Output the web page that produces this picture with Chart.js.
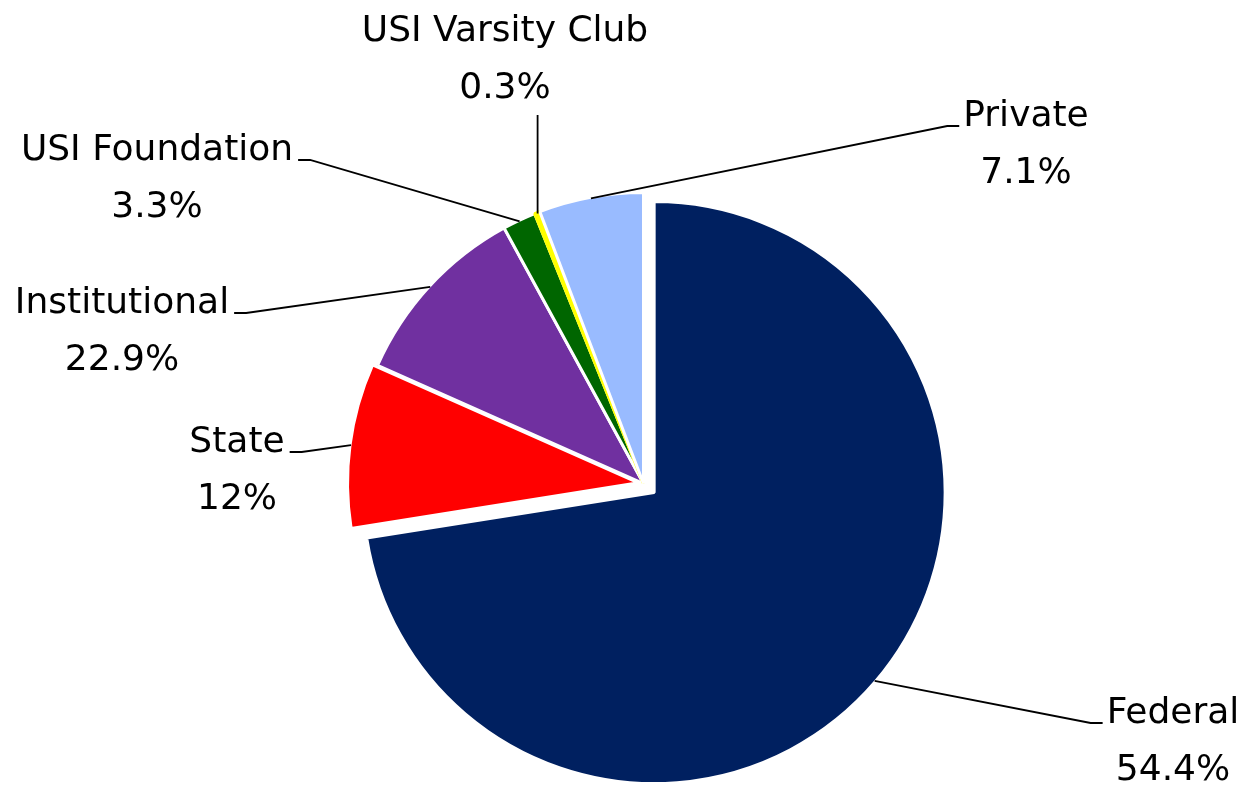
<!DOCTYPE html>
<html>
<head>
<meta charset="utf-8">
<script src="https://cdn.jsdelivr.net/npm/chart.js@4.4.1/dist/chart.umd.min.js"></script>
<style>
  html, body { margin: 0; padding: 0; background: #ffffff; }
  #wrap { width: 1245px; height: 786px; position: relative; }
</style>
</head>
<body>
<div id="wrap"><canvas id="c" width="1245" height="786"></canvas></div>
<script>
// ---- data ----
const categories = ['Federal', 'State', 'Institutional', 'USI Foundation', 'USI Varsity Club', 'Private'];
const sliceValues = [72.5, 9.15, 10.4, 1.85, 0.3, 5.8];          // slice sizes as drawn
const percentLabels = ['54.4%', '12%', '22.9%', '3.3%', '0.3%', '7.1%']; // label texts
const sliceColors = ['#002060', '#FF0000', '#7030A0', '#006600', '#FFFF00', '#99BBFF'];

// ---- styling / layout ----
const borderColors = ['#ffffff', '#ffffff', '#ffffff', '#ffffff', '#FFFF00', '#ffffff'];
const explode = [14, 5, 0, 0, 0, 0];
const FONT = '36px "DejaVu Sans"';
const LINE_GAP = 57;
const labelLayout = [
  {x: 1173, y: 723, side: 'right'},
  {x: 237,  y: 452, side: 'left'},
  {x: 122,  y: 313, side: 'left'},
  {x: 157,  y: 160, side: 'left'},
  {x: 505,  y: 41,  side: 'top'},
  {x: 1026, y: 126, side: 'right'}
];

const explodePlugin = {
  id: 'explode',
  afterDatasetUpdate(chart, args) {
    const meta = chart.getDatasetMeta(args.index);
    meta.data.forEach((arc, i) => {
      const d = explode[i] || 0;
      if (!d || arc._exploded) return;
      const orig = arc.draw;
      arc.draw = function (ctx) {
        const mid = (this.startAngle + this.endAngle) / 2;
        ctx.save();
        ctx.translate(Math.cos(mid) * d, Math.sin(mid) * d);
        orig.call(this, ctx);
        ctx.restore();
      };
      arc._exploded = true;
    });
  }
};

const labelPlugin = {
  id: 'pieLabels',
  afterDraw(chart) {
    const ctx = chart.ctx;
    const meta = chart.getDatasetMeta(0);
    ctx.save();
    ctx.font = FONT;
    ctx.fillStyle = '#000000';
    ctx.strokeStyle = '#000000';
    ctx.lineWidth = 1.8;
    ctx.textAlign = 'center';
    ctx.textBaseline = 'alphabetic';
    meta.data.forEach((arc, i) => {
      const L = labelLayout[i];
      const mid = (arc.startAngle + arc.endAngle) / 2;
      const d = explode[i] || 0;
      const cx = arc.x + Math.cos(mid) * d;
      const cy = arc.y + Math.sin(mid) * d;
      const r = arc.outerRadius - 1;
      const px = cx + Math.cos(mid) * r;
      const py = cy + Math.sin(mid) * r;
      const w = ctx.measureText(categories[i]).width;
      ctx.beginPath();
      ctx.moveTo(px, py);
      if (L.side === 'top') {
        ctx.lineTo(px, L.y + LINE_GAP + 17);
      } else if (L.side === 'right') {
        const ax = L.x - w / 2 - 4;
        ctx.lineTo(ax - 12, L.y);
        ctx.lineTo(ax, L.y);
      } else {
        const ax = L.x + w / 2 + 5;
        ctx.lineTo(ax + 12, L.y);
        ctx.lineTo(ax, L.y);
      }
      ctx.stroke();
      ctx.fillText(categories[i], L.x, L.y);
      ctx.fillText(percentLabels[i], L.x, L.y + LINE_GAP);
    });
    ctx.restore();
  }
};

new Chart(document.getElementById('c'), {
  type: 'pie',
  data: {
    labels: categories,
    datasets: [{
      data: sliceValues,
      backgroundColor: sliceColors,
      borderColor: borderColors,
      borderWidth: 3,
      radius: 291,
      clip: false
    }]
  },
  options: {
    responsive: false,
    devicePixelRatio: 1,
    animation: false,
    events: [],
    layout: { padding: { left: 42, right: 0, top: 181, bottom: 0 } },
    plugins: {
      legend: { display: false },
      tooltip: { enabled: false },
      title: { display: false }
    }
  },
  plugins: [explodePlugin, labelPlugin]
});
</script>
</body>
</html>
